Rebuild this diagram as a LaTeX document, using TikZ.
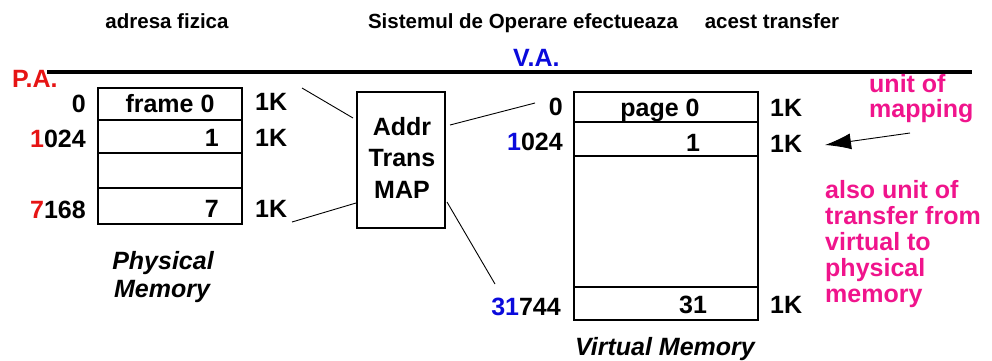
\documentclass[tikz,border=0pt]{standalone}
\usepackage{fontspec}
\setmainfont{Liberation Sans}
\usetikzlibrary{arrows.meta}
\definecolor{pared}{RGB}{230,20,20}
\definecolor{vablue}{RGB}{10,10,220}
\definecolor{notepink}{RGB}{240,20,140}
\begin{document}
\begin{tikzpicture}[x=1pt,y=-1pt,
  lbl/.style={font=\fontsize{25}{30}\selectfont\bfseries, inner sep=0pt},
  ttl/.style={font=\fontsize{20.5}{24}\selectfont\bfseries, inner sep=0pt},
  memcap/.style={font=\fontsize{25}{29}\selectfont\bfseries\itshape, inner sep=0pt},
  note/.style={font=\fontsize{25}{26}\selectfont\bfseries, text=notepink, inner sep=0pt, anchor=base west},
  cell/.style={draw, line width=1.4pt, inner sep=0pt},
  conn/.style={line width=0.9pt}
]
\useasboundingbox (0,0) rectangle (992,360);

% titles
\node[ttl, anchor=base] (t1) at (167,28) {adresa fizica};
\node[ttl, anchor=base] (t2) at (523,28) {Sistemul de Operare efectueaza};
\node[ttl, anchor=base] (t3) at (772,28) {acest transfer};

% thick line
\coordinate (hl) at (47,72);
\coordinate (hr) at (972,72);
\draw[line width=4pt] (hl) -- (hr);
\node[lbl, text=pared, anchor=base west] (pa) at (12,87) {P.A.};
\node[lbl, text=vablue, anchor=base west] (va) at (513,66) {V.A.};

% physical memory
\node[cell, minimum width=144, minimum height=32] (f0) at (170,104) {};
\node[cell, minimum width=144, minimum height=33] (f1) at (170,136.5) {};
\node[cell, minimum width=144, minimum height=35] (f2) at (170,170.5) {};
\node[cell, minimum width=144, minimum height=36] (f7) at (170,206) {};
\node[lbl, anchor=base] (f0t) at (170,112) {frame 0};
\node[lbl, anchor=base east] (f1t) at (219,146) {1};
\node[lbl, anchor=base east] (f7t) at (219,217) {7};
\node[lbl, anchor=base east] (a0) at (86,112) {0};
\node[lbl, anchor=base east] (a1) at (86,147) {\textcolor{pared}{1}024};
\node[lbl, anchor=base east] (a7) at (86,218) {\textcolor{pared}{7}168};
\node[lbl, anchor=base west] (k0) at (255,110) {1K};
\node[lbl, anchor=base west] (k1) at (255,146) {1K};
\node[lbl, anchor=base west] (k7) at (255,217) {1K};
\node[memcap, anchor=base] (pm1) at (163,269) {Physical};
\node[memcap, anchor=base] (pm2) at (162,297) {Memory};

% address translation map
\node[cell, minimum width=88, minimum height=136] (addr) at (401,160) {};
\node[lbl, align=center, font=\fontsize{25}{31.5}\selectfont\bfseries] (addrt) at (402,157.5) {Addr\\Trans\\MAP};

% virtual memory
\node[cell, minimum width=184, minimum height=30] (p0) at (666,107) {};
\node[cell, minimum width=184, minimum height=34] (p1) at (666,139) {};
\node[cell, minimum width=184, minimum height=131] (pmid) at (666,221.5) {};
\node[cell, minimum width=184, minimum height=33] (p31) at (666,303.5) {};
\node[lbl, anchor=base] (p0t) at (660,116) {page 0};
\node[lbl, anchor=base] (p1t) at (693,151) {1};
\node[lbl, anchor=base] (p31t) at (693,313) {31};
\node[lbl, anchor=base east] (v0) at (563,115) {0};
\node[lbl, anchor=base east] (v1) at (563,150) {\textcolor{vablue}{1}024};
\node[lbl, anchor=base east] (v31) at (561,315) {\textcolor{vablue}{31}744};
\node[lbl, anchor=base west] (vk0) at (770,116) {1K};
\node[lbl, anchor=base west] (vk1) at (770,152) {1K};
\node[lbl, anchor=base west] (vk31) at (770,313) {1K};
\node[memcap, anchor=base] (vm) at (665,355) {Virtual Memory};

% connectors
\coordinate (c1a) at (302,88);  \coordinate (c1b) at (353,118);
\coordinate (c2a) at (292,222); \coordinate (c2b) at (356,203);
\coordinate (c3a) at (450,125); \coordinate (c3b) at (535,103);
\coordinate (c4a) at (447,202); \coordinate (c4b) at (495,284);
\draw[conn] (c1a) -- (c1b);
\draw[conn] (c2a) -- (c2b);
\draw[conn] (c3a) -- (c3b);
\draw[conn] (c4a) -- (c4b);

% notes
\node[note] (n1) at (869,92) {unit of};
\node[note] (n2) at (869,117) {mapping};
\coordinate (arrs) at (910,133);
\coordinate (arre) at (825,145);
\draw[conn, -{Latex[length=26pt,width=16pt]}] (arrs) -- (arre);
\node[note] (m1) at (825,198) {also unit of};
\node[note] (m2) at (825,224) {transfer from};
\node[note] (m3) at (825,250) {virtual to};
\node[note] (m4) at (825,276) {physical};
\node[note] (m5) at (825,302) {memory};
\end{tikzpicture}
\end{document}
